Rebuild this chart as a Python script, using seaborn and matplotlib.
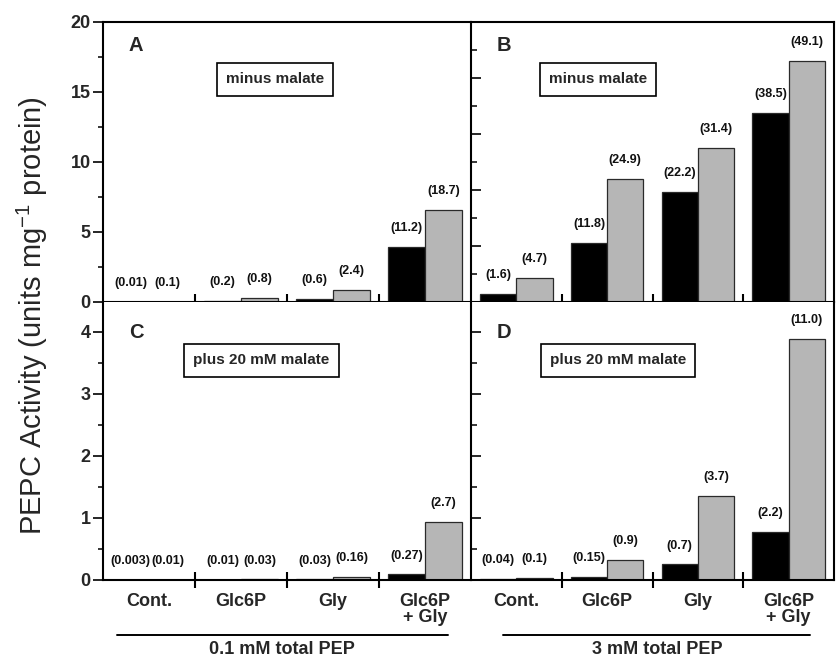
import numpy as np
import pandas as pd
import seaborn as sns
import matplotlib
matplotlib.use("Agg")
import matplotlib.pyplot as plt
from matplotlib.ticker import MultipleLocator, FixedLocator
from matplotlib.lines import Line2D

# ---------------- data ----------------
categories = ["Cont.", "Glc6P", "Gly", "Glc6P\n+ Gly"]
series = ["dark", "light"]

a_dark = [0.004, 0.07, 0.2, 3.95]
a_light = [0.035, 0.28, 0.88, 6.6]
a_lab_dark = ["(0.01)", "(0.2)", "(0.6)", "(11.2)"]
a_lab_light = ["(0.1)", "(0.8)", "(2.4)", "(18.7)"]

b_dark = [0.6, 4.2, 7.85, 13.5]
b_light = [1.7, 8.8, 11.0, 17.2]
b_lab_dark = ["(1.6)", "(11.8)", "(22.2)", "(38.5)"]
b_lab_light = ["(4.7)", "(24.9)", "(31.4)", "(49.1)"]

c_dark = [0.001, 0.004, 0.01, 0.09]
c_light = [0.004, 0.01, 0.056, 0.94]
c_lab_dark = ["(0.003)", "(0.01)", "(0.03)", "(0.27)"]
c_lab_light = ["(0.01)", "(0.03)", "(0.16)", "(2.7)"]

d_dark = [0.014, 0.05, 0.25, 0.77]
d_light = [0.035, 0.32, 1.36, 3.88]
d_lab_dark = ["(0.04)", "(0.15)", "(0.7)", "(2.2)"]
d_lab_light = ["(0.1)", "(0.9)", "(3.7)", "(11.0)"]

pep_groups = ["0.1 mM total PEP", "3 mM total PEP"]
conditions = ["minus malate", "plus 20 mM malate"]
panel_letters = ["A", "B", "C", "D"]
ylabel = r"PEPC Activity (units mg$^{-1}$ protein)"

# ---------------- style ----------------
sns.set_theme(style="ticks")
plt.rcParams["font.family"] = ["Liberation Sans", "DejaVu Sans"]
plt.rcParams["mathtext.fontset"] = "custom"
plt.rcParams["mathtext.rm"] = "Liberation Sans"
plt.rcParams["mathtext.it"] = "Liberation Sans:italic"
plt.rcParams["mathtext.bf"] = "Liberation Sans:bold"

W, H = 836, 659
fig = plt.figure(figsize=(W / 100, H / 100), dpi=100)
fig.patch.set_facecolor("white")

def fx(px):
    return px / W

def fy(py):
    return 1 - py / H

xl, xm, xr = 103, 471, 834
yt, ymid, yb = 22, 302, 580

axA = fig.add_axes([fx(xl), fy(ymid), fx(xm) - fx(xl), fy(yt) - fy(ymid)])
axB = fig.add_axes([fx(xm), fy(ymid), fx(xr) - fx(xm), fy(yt) - fy(ymid)])
axC = fig.add_axes([fx(xl), fy(yb), fx(xm) - fx(xl), fy(ymid) - fy(yb)])
axD = fig.add_axes([fx(xm), fy(yb), fx(xr) - fx(xm), fy(ymid) - fy(yb)])

palette = ["black", "#b6b6b6"]
LW = 1.5

def draw(ax, dark, light, lab_dark, lab_light):
    df = pd.DataFrame({
        "cat": categories * 2,
        "series": [series[0]] * 4 + [series[1]] * 4,
        "val": dark + light,
    })
    sns.barplot(data=df, x="cat", y="val", hue="series", order=categories,
                hue_order=series, palette=palette, saturation=1,
                edgecolor="#2a2a2a", linewidth=0.9, errorbar=None,
                legend=False, ax=ax)
    for cont, labs in zip(ax.containers, [lab_dark, lab_light]):
        for bar, lab in zip(cont, labs):
            ax.annotate(lab, (bar.get_x() + bar.get_width() / 2, bar.get_height()),
                        xytext=(0, 13.5), textcoords="offset points",
                        ha="center", va="center", fontsize=9,
                        fontweight="bold", color="#111111")
    ax.set_xlim(-0.5, 3.5)
    ax.set_xlabel("")
    ax.set_ylabel("")
    ax.set_facecolor("white")
    ax.xaxis.set_minor_locator(FixedLocator([0.5, 1.5, 2.5]))
    ax.tick_params(axis="x", which="minor", direction="inout", length=11,
                   width=1.5, color="black")
    ax.tick_params(axis="x", which="major", length=0)
    for s in ax.spines.values():
        s.set_linewidth(LW)
        s.set_color("black")

draw(axA, a_dark, a_light, a_lab_dark, a_lab_light)
draw(axB, b_dark, b_light, b_lab_dark, b_lab_light)
draw(axC, c_dark, c_light, c_lab_dark, c_lab_light)
draw(axD, d_dark, d_light, d_lab_dark, d_lab_light)

# top row
for ax in (axA, axB):
    ax.set_ylim(0, 20)
    ax.tick_params(axis="x", which="both", labelbottom=False)
for ax in (axC, axD):
    ax.set_ylim(0, 4.48)
    ax.spines["top"].set_visible(False)

# left column: labelled y axes
axA.yaxis.set_major_locator(MultipleLocator(5))
axA.yaxis.set_minor_locator(MultipleLocator(2.5))
axC.yaxis.set_major_locator(MultipleLocator(1))
axC.yaxis.set_minor_locator(MultipleLocator(0.5))
for ax in (axA, axC):
    ax.spines["right"].set_visible(False)
    ax.tick_params(axis="y", which="major", direction="out", length=7, width=1.4,
                   labelsize=13, pad=2)
    ax.tick_params(axis="y", which="minor", direction="out", length=3.5, width=1.3)
    for t in ax.get_yticklabels():
        t.set_fontweight("bold")

# right column: inward ticks on the divider
axB.yaxis.set_major_locator(MultipleLocator(4))
axB.yaxis.set_minor_locator(MultipleLocator(2))
axD.yaxis.set_major_locator(MultipleLocator(1))
axD.yaxis.set_minor_locator(MultipleLocator(0.5))
for ax in (axB, axD):
    ax.tick_params(axis="y", which="major", direction="in", length=7, width=1.4,
                   labelleft=False)
    ax.tick_params(axis="y", which="minor", direction="in", length=4, width=1.3)

# bottom row category labels
for ax in (axC, axD):
    ax.set_xticks(range(len(categories)))
    ax.set_xticklabels(categories, fontsize=13, fontweight="bold", linespacing=1.0)
    ax.tick_params(axis="x", which="major", length=0, pad=9)

# panel letters
for ax, letter in zip((axA, axB, axC, axD), panel_letters):
    ax.text(0.09, 0.915 if ax in (axA, axB) else 0.89, letter,
            transform=ax.transAxes, fontsize=14.5, fontweight="bold",
            ha="center", va="center")

# condition boxes
box = dict(boxstyle="square,pad=0.6", facecolor="white", edgecolor="black", linewidth=1.2)
axA.text(0.468, 0.795, conditions[0], transform=axA.transAxes, ha="center", va="center",
         fontsize=11, fontweight="bold", bbox=box)
axB.text(0.35, 0.795, conditions[0], transform=axB.transAxes, ha="center", va="center",
         fontsize=11, fontweight="bold", bbox=box)
axC.text(0.43, 0.79, conditions[1], transform=axC.transAxes, ha="center", va="center",
         fontsize=11, fontweight="bold", bbox=box)
axD.text(0.405, 0.79, conditions[1], transform=axD.transAxes, ha="center", va="center",
         fontsize=11, fontweight="bold", bbox=box)

# group underlines and labels
fig.add_artist(Line2D([fx(117), fx(448)], [fy(635), fy(635)], color="black", lw=1.4))
fig.add_artist(Line2D([fx(503), fx(810)], [fy(635), fy(635)], color="black", lw=1.4))
fig.text(fx(282), fy(649), pep_groups[0], ha="center", va="center", fontsize=13,
         fontweight="bold")
fig.text(fx(657), fy(649), pep_groups[1], ha="center", va="center", fontsize=13,
         fontweight="bold")

fig.text(fx(32), fy(316), ylabel, rotation=90, ha="center", va="center", fontsize=21)

fig.savefig("out.png", dpi=100, facecolor="white")
